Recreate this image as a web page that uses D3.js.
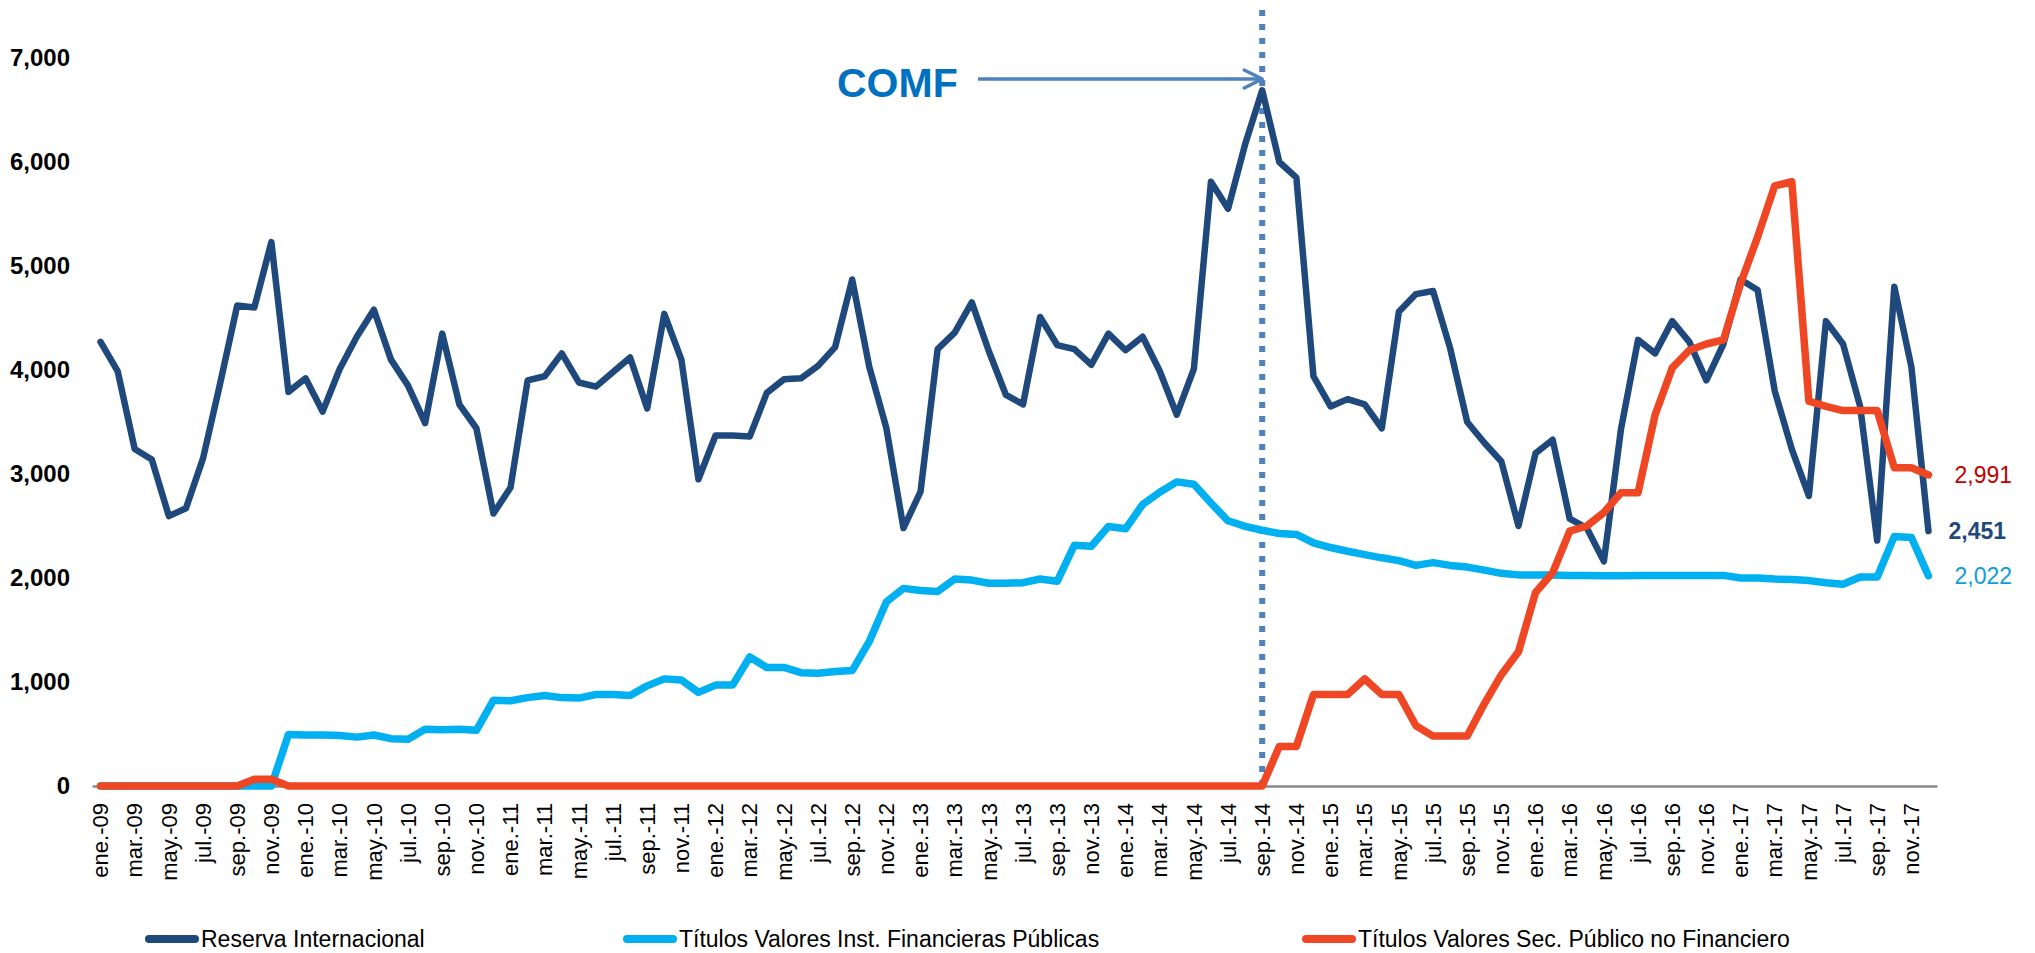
<!DOCTYPE html>
<html>
<head>
  <meta charset="utf-8" />
  <title>Reserva Internacional y Titulos Valores</title>
  <style>
    body { margin: 0; background: #fff; }
    svg text { font-family: Arial, "Liberation Sans", sans-serif; }
  </style>
</head>
<body>

<svg id="mysvg" width="2035" height="953"></svg>

<script src="https://d3js.org/d3.v7.min.js"></script>
<script>

// month names (Spanish, as in the axis) and years
var monthNames = ["ene.","feb.","mar.","abr.","may.","jun.","jul.","ago.","sep.","oct.","nov.","dic."];
var years = ["09","10","11","12","13","14","15","16","17"];

// Reserva Internacional
var reserva = [
  4270,3990,3240,3140,2595,2670,3150,3870,4620,4600,5230,3790,
  3920,3600,4010,4320,4580,4100,3850,3490,4350,3670,3440,2620,
  2870,3900,3940,4160,3880,3840,3980,4120,3630,4540,4100,2950,
  3370,3370,3360,3780,3910,3920,4040,4220,4870,4030,3440,2480,
  2830,4200,4360,4650,4180,3760,3670,4510,4240,4200,4050,4350,
  4190,4320,3990,3570,4010,5810,5550,6170,6690,6000,5850,3940,
  3650,3720,3670,3440,4560,4730,4760,4210,3500,3300,3120,2500,
  3200,3330,2570,2480,2160,3430,4290,4160,4470,4270,3900,4250,
  4870,4770,3800,3240,2790,4470,4250,3650,2360,4800,4030,2451
];

// Titulos Valores Inst. Financieras Publicas
var instFin = [
  0,0,0,0,0,0,0,0,0,0,0,495,
  490,490,485,470,490,455,450,545,540,545,535,825,
  820,850,870,850,845,880,880,870,963,1030,1020,900,
  970,970,1240,1140,1140,1090,1085,1100,1110,1390,1770,1900,
  1880,1870,1990,1980,1950,1950,1955,1990,1968,2315,2306,2496,
  2473,2707,2825,2924,2901,2721,2550,2496,2459,2428,2419,2338,
  2293,2257,2225,2194,2167,2121,2148,2121,2105,2076,2045,2030,
  2030,2028,2025,2025,2022,2022,2025,2025,2025,2025,2025,2025,
  2000,2000,1990,1985,1975,1955,1940,2010,2010,2400,2390,2022
];

// Titulos Valores Sec. Publico no Financiero
var secPub = [
  0,0,0,0,0,0,0,0,0,65,65,0,
  0,0,0,0,0,0,0,0,0,0,0,0,
  0,0,0,0,0,0,0,0,0,0,0,0,
  0,0,0,0,0,0,0,0,0,0,0,0,
  0,0,0,0,0,0,0,0,0,0,0,0,
  0,0,0,0,0,0,0,0,0,380,380,880,
  880,880,1030,880,880,580,480,480,480,790,1070,1290,
  1860,2050,2450,2500,2630,2820,2820,3570,4020,4190,4250,4290,
  4830,5280,5770,5810,3700,3650,3610,3610,3610,3060,3060,2991
];

var yTicks = [0,1000,2000,3000,4000,5000,6000,7000];
var comfMonth = "sep.-14";

var months = [];
years.forEach(function(yy){
  monthNames.forEach(function(m){ months.push(m + "-" + yy); });
});
// every other month gets a label
var xTickLabels = months.filter(function(d,i){ return i % 2 == 0; });

var series = [
  {name:"Reserva Internacional", values:reserva, color:"#1F497D", width:6.5},
  {name:"Títulos Valores Inst. Financieras Públicas", values:instFin, color:"#00B0F0", width:7.5},
  {name:"Títulos Valores Sec. Público no Financiero", values:secPub, color:"#EF4623", width:7.5}
];

var svg = d3.select("#mysvg");

var x = d3.scaleBand().domain(months).range([92,1937]);
var xc = function(m){ return x(m) + x.bandwidth()/2; };
var y = d3.scaleLinear().domain([0,7000]).range([786,58]);

// y axis (labels only)
var yAxis = svg.append("g")
  .attr("transform","translate(92,0)")
  .call(d3.axisLeft(y).tickValues(yTicks).tickFormat(d3.format(",")).tickSize(0).tickPadding(22));
yAxis.select(".domain").remove();
yAxis.selectAll("text")
  .attr("font-size","24px")
  .attr("font-weight","bold")
  .attr("fill","#000")
  .attr("font-family","Arial, 'Liberation Sans', sans-serif");

// dotted COMF line, behind the series
svg.append("line")
  .attr("x1",xc(comfMonth)).attr("x2",xc(comfMonth))
  .attr("y1",10).attr("y2",786)
  .attr("stroke","#4F81BD")
  .attr("stroke-width",6)
  .attr("stroke-dasharray","6,8");

// x axis
var xAxis = svg.append("g")
  .attr("transform","translate(0,786)")
  .call(d3.axisBottom(x).tickValues(xTickLabels).tickSize(0).tickSizeOuter(0));
xAxis.select(".domain")
  .attr("stroke","#898989")
  .attr("stroke-width",2.5);
xAxis.selectAll("text")
  .attr("y",0)
  .attr("x",-17)
  .attr("dy","0.35em")
  .attr("transform","rotate(-90)")
  .attr("text-anchor","end")
  .attr("font-size","22px")
  .attr("fill","#000")
  .attr("font-family","Arial, 'Liberation Sans', sans-serif");

var line = d3.line()
  .x(function(d,i){ return xc(months[i]); })
  .y(function(d){ return y(d); });

series.forEach(function(s){
  svg.append("path")
    .attr("d", line(s.values))
    .attr("fill","none")
    .attr("stroke", s.color)
    .attr("stroke-width", s.width)
    .attr("stroke-linejoin","round")
    .attr("stroke-linecap","round");
});

// end labels
var last = months[months.length-1];
var endLabels = [
  {v:secPub[secPub.length-1], color:"#C00000", bold:false, dx:26},
  {v:reserva[reserva.length-1], color:"#1F497D", bold:true, dx:20},
  {v:instFin[instFin.length-1], color:"#0E9CDB", bold:false, dx:26}
];
endLabels.forEach(function(l){
  svg.append("text")
    .attr("x", xc(last) + l.dx)
    .attr("y", y(l.v))
    .attr("dy","0.36em")
    .attr("font-size","23px")
    .attr("font-weight", l.bold ? "bold" : "normal")
    .attr("fill", l.color)
    .text(d3.format(",")(l.v));
});

// COMF annotation
svg.append("text")
  .attr("x",837).attr("y",97)
  .attr("font-size","41px")
  .attr("font-weight","bold")
  .attr("fill","#0070C0")
  .text("COMF");
svg.append("line")
  .attr("x1",978).attr("x2",xc(comfMonth)-1)
  .attr("y1",79).attr("y2",79)
  .attr("stroke","#4F81BD")
  .attr("stroke-width",3.5);
svg.append("polyline")
  .attr("points",[[xc(comfMonth)-18,70],[xc(comfMonth),79],[xc(comfMonth)-18,88]].join(" "))
  .attr("fill","none")
  .attr("stroke","#4F81BD")
  .attr("stroke-width",3.5)
  .attr("stroke-linecap","round")
  .attr("stroke-linejoin","round");

// legend
var legendX = [149, 627, 1306];
series.forEach(function(s,i){
  var g = svg.append("g").attr("transform","translate(" + legendX[i] + ",939)");
  g.append("line")
    .attr("x1",0).attr("x2",46)
    .attr("y1",0).attr("y2",0)
    .attr("stroke", s.color)
    .attr("stroke-width",8)
    .attr("stroke-linecap","round");
  g.append("text")
    .attr("x",52)
    .attr("y",0)
    .attr("dy","0.36em")
    .attr("font-size","23px")
    .attr("fill","#000")
    .text(s.name);
});

</script>
</body>
</html>
